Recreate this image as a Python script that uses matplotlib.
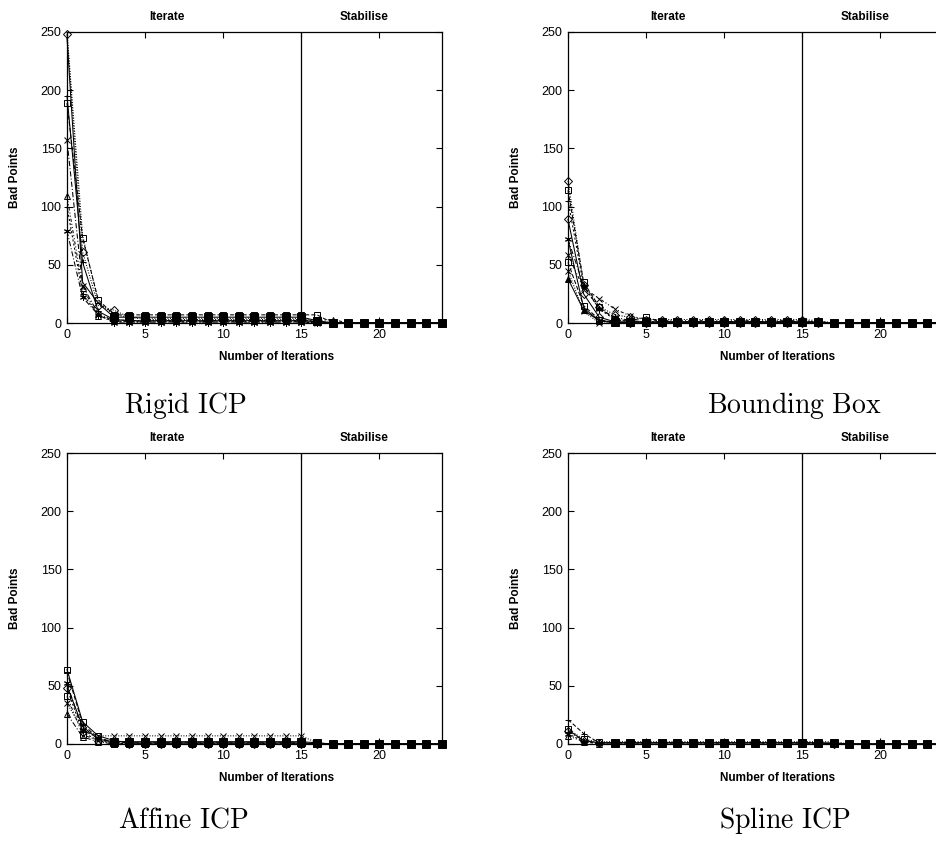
import matplotlib
matplotlib.use("Agg")
import matplotlib.pyplot as plt
import numpy as np

plt.rcParams['mathtext.fontset'] = 'cm'
plt.rcParams['font.family'] = ['Liberation Sans', 'DejaVu Sans']

iterations = list(range(25))
x_ticks = [0, 5, 10, 15, 20]
y_ticks = [0, 50, 100, 150, 200, 250]
phase_labels = ["Iterate", "Stabilise"]
captions = ["Rigid ICP", "Bounding Box", "Affine ICP", "Spline ICP"]

# ---- Rigid ICP ----
rigid_diamond = [248, 61, 15, 11, 5, 3, 3, 3, 3, 3, 3, 3, 3, 3, 3, 3, 2, 0, 0, 0, 0, 0, 0, 0, 0]
rigid_dotted = [250, 75, 18, 7, 5, 4, 4, 4, 4, 4, 4, 4, 4, 4, 4, 4, 1, 0, 0, 0, 0, 0, 0, 0, 0]
rigid_plus = [195, 52, 10, 3, 2, 2, 2, 2, 2, 2, 2, 2, 2, 2, 2, 2, 1, 0, 0, 0, 0, 0, 0, 0, 0]
rigid_square = [189, 73, 20, 7, 7, 7, 7, 7, 7, 7, 7, 7, 7, 7, 7, 7, 7, 0, 0, 0, 0, 0, 0, 0, 0]
rigid_cross = [157, 32, 8, 2, 1, 1, 1, 1, 1, 1, 1, 1, 1, 1, 1, 1, 0, 0, 0, 0, 0, 0, 0, 0, 0]
rigid_triangle = [109, 30, 6, 3, 2, 2, 2, 2, 2, 2, 2, 2, 2, 2, 2, 2, 2, 3, 0, 0, 0, 0, 0, 0, 0]
rigid_plus2 = [100, 25, 7, 1, 1, 1, 1, 1, 1, 1, 1, 1, 1, 1, 1, 1, 0, 0, 0, 0, 0, 0, 0, 0, 0]
rigid_star = [79, 22, 7, 0, 0, 0, 0, 0, 0, 0, 0, 0, 0, 0, 0, 0, 0, 0, 0, 0, 0, 0, 0, 0, 0]
rigid_fsquare = [245, 35, 17, 5, 5, 5, 5, 5, 5, 5, 5, 5, 5, 5, 5, 5, 2, 0, 0, 0, 0, 0, 0, 0, 0]

# ---- Bounding Box ----
box_diamond = [122, 33, 14, 7, 5, 3, 3, 3, 3, 3, 3, 3, 3, 3, 3, 3, 2, 0, 0, 0, 0, 0, 0, 0, 0]
box_square = [114, 35, 14, 3, 2, 5, 1, 1, 1, 1, 1, 1, 1, 1, 1, 1, 1, 0, 0, 0, 0, 0, 0, 0, 0]
box_plus = [105, 32, 12, 3, 1, 1, 1, 1, 1, 1, 1, 1, 1, 1, 1, 1, 0, 0, 0, 0, 0, 0, 0, 0, 0]
box_diamond2 = [89, 25, 5, 1, 0, 0, 0, 0, 0, 0, 0, 0, 0, 0, 0, 0, 0, 0, 0, 0, 0, 0, 0, 0, 0]
box_star = [72, 32, 12, 5, 2, 1, 1, 1, 1, 1, 1, 1, 1, 1, 1, 1, 0, 0, 0, 0, 0, 0, 0, 0, 0]
box_cross = [58, 30, 21, 12, 6, 3, 2, 2, 2, 2, 2, 2, 2, 2, 2, 2, 1, 0, 0, 0, 0, 0, 0, 0, 0]
box_square2 = [52, 15, 3, 0, 0, 0, 0, 0, 0, 0, 0, 0, 0, 0, 0, 0, 0, 0, 0, 0, 0, 0, 0, 0, 0]
box_cross2 = [45, 10, 0, 0, 0, 0, 0, 0, 0, 0, 0, 0, 0, 0, 0, 0, 0, 0, 0, 0, 0, 0, 0, 0, 0]
box_triangle = [38, 11, 2, 0, 0, 0, 0, 0, 0, 0, 0, 0, 0, 0, 0, 0, 0, 0, 0, 0, 0, 0, 0, 0, 0]
box_fsquare = [72, 13, 2, 1, 1, 1, 1, 1, 1, 1, 1, 1, 1, 1, 1, 1, 1, 0, 0, 0, 0, 0, 0, 0, 0]

# ---- Affine ICP ----
affine_square = [64, 19, 7, 3, 1, 1, 1, 1, 1, 1, 1, 1, 1, 1, 1, 1, 0, 0, 0, 0, 0, 0, 0, 0, 0]
affine_plus = [62, 17, 5, 2, 1, 1, 1, 1, 1, 1, 1, 1, 1, 1, 1, 1, 0, 0, 0, 0, 0, 0, 0, 0, 0]
affine_star = [52, 12, 5, 1, 0, 0, 0, 0, 0, 0, 0, 0, 0, 0, 0, 0, 0, 0, 0, 0, 0, 0, 0, 0, 0]
affine_diamond = [48, 10, 3, 1, 0, 0, 0, 0, 0, 0, 0, 0, 0, 0, 0, 0, 0, 0, 0, 0, 0, 0, 0, 0, 0]
affine_square2 = [41, 8, 3, 0, 0, 0, 0, 0, 0, 0, 0, 0, 0, 0, 0, 0, 0, 0, 0, 0, 0, 0, 0, 0, 0]
affine_cross = [35, 12, 7, 7, 7, 7, 7, 7, 7, 7, 7, 7, 7, 7, 7, 7, 1, 0, 0, 0, 0, 0, 0, 0, 0]
affine_triangle = [26, 6, 2, 0, 0, 0, 0, 0, 0, 0, 0, 0, 0, 0, 0, 0, 0, 0, 0, 0, 0, 0, 0, 0, 0]
affine_fsquare = [50, 15, 4, 2, 2, 2, 2, 2, 2, 2, 2, 2, 2, 2, 2, 2, 1, 0, 0, 0, 0, 0, 0, 0, 0]

# ---- Spline ICP ----
spline_plus = [21, 9, 1, 1, 1, 1, 1, 1, 1, 1, 1, 1, 1, 1, 1, 1, 1, 0, 0, 0, 0, 0, 0, 0, 0]
spline_square = [13, 4, 2, 2, 2, 2, 2, 2, 2, 2, 2, 2, 2, 2, 2, 2, 2, 2, 0, 0, 0, 0, 0, 0, 0]
spline_diamond = [11, 3, 1, 1, 1, 1, 1, 1, 1, 1, 1, 1, 1, 1, 1, 1, 1, 0, 0, 0, 0, 0, 0, 0, 0]
spline_star = [9, 2, 1, 1, 1, 1, 1, 1, 1, 1, 1, 1, 1, 1, 1, 1, 0, 0, 0, 0, 0, 0, 0, 0, 0]
spline_triangle = [7, 2, 0, 0, 0, 0, 0, 0, 0, 0, 0, 0, 0, 0, 0, 0, 0, 0, 0, 0, 0, 0, 0, 0, 0]
spline_fsquare = [12, 3, 1, 1, 1, 1, 1, 1, 1, 1, 1, 1, 1, 1, 1, 1, 1, 1, 0, 0, 0, 0, 0, 0, 0]

ASTER = (6, 2, 0)
DASH_DOT = (0, (5, 2, 1, 2))
DASH_DOT2 = (0, (3, 2, 1, 2, 1, 2))
DOTTED = (0, (1, 1.5))
DASHED = (0, (4, 2))
DASHED2 = (0, (2, 2))

panels = [
    [(rigid_dotted, None, DOTTED), (rigid_diamond, 'D', DOTTED), (rigid_plus, '+', '-'),
     (rigid_square, 's', DASHED), (rigid_cross, 'x', DASH_DOT), (rigid_triangle, '^', DASH_DOT2),
     (rigid_plus2, '+', DASHED2), (rigid_star, ASTER, DASH_DOT), (rigid_fsquare, 'S', '-')],
    [(box_diamond, 'D', DOTTED), (box_square, 's', DASHED), (box_plus, '+', DASHED2),
     (box_diamond2, 'D', '-'), (box_star, ASTER, DASH_DOT), (box_cross, 'x', DASH_DOT2),
     (box_square2, 's', DASHED), (box_cross2, 'x', DOTTED), (box_triangle, '^f', '-'),
     (box_fsquare, 'S', '-')],
    [(affine_square, 's', '-'), (affine_plus, '+', DASHED), (affine_star, ASTER, DASH_DOT),
     (affine_diamond, 'D', DASHED2), (affine_square2, 's', DASH_DOT2), (affine_cross, 'x', DOTTED),
     (affine_triangle, '^', DASH_DOT), (affine_fsquare, 'S', '-')],
    [(spline_plus, '+', DASHED), (spline_square, 's', DOTTED), (spline_diamond, 'D', DASH_DOT),
     (spline_star, ASTER, DASHED2), (spline_triangle, '^', DASH_DOT2), (spline_fsquare, 'S', '-')],
]

W, H = 937, 841
fig = plt.figure(figsize=(W / 100, H / 100), dpi=100)

ax_w = 375 / W
ax_h = 291 / H
origins = [(67, 323), (568, 323), (67, 744), (568, 744)]
caption_pos = [(185, 405), (794, 405), (183, 820), (785, 820)]

label_font = dict(family=['Liberation Sans Narrow', 'Liberation Sans'], fontweight='bold', fontsize=8.5)

for i, series in enumerate(panels):
    ox, oy = origins[i]
    ax = fig.add_axes([ox / W, 1 - oy / H, ax_w, ax_h])
    for vals, mk, ls in series:
        kw = dict(color='black', lw=0.75, linestyle=ls, markeredgewidth=0.7, clip_on=False)
        if mk is None:
            ax.plot(iterations, vals, **kw)
        elif mk == 'S':
            ax.plot(iterations, vals, marker='s', markersize=5.5, markerfacecolor='black',
                    markevery=list(range(3, len(iterations))), zorder=3, **kw)
        elif mk == '^f':
            ax.plot(iterations, vals, marker='^', markersize=5, markerfacecolor='black', **kw)
        elif mk == 'D':
            ax.plot(iterations, vals, marker='D', markersize=3.8, markerfacecolor='none', **kw)
        else:
            fc = 'none' if mk in ('s', '^') else 'black'
            ax.plot(iterations, vals, marker=mk, markersize=5, markerfacecolor=fc, **kw)
    ax.axvline(15, color='black', lw=0.9)
    ax.set_xlim(0, 24)
    ax.set_ylim(0, 250)
    ax.set_xticks(x_ticks)
    ax.set_yticks(y_ticks)
    ax.tick_params(direction='in', top=True, right=True, length=4, width=0.8,
                   labelsize=9, pad=4)
    for sp in ax.spines.values():
        sp.set_linewidth(0.9)
    ax.text(6.4, 1.052, phase_labels[0], transform=ax.get_xaxis_transform(),
            ha='center', va='center', **label_font)
    ax.text(19.0, 1.052, phase_labels[1], transform=ax.get_xaxis_transform(),
            ha='center', va='center', **label_font)
    ax.text(0.56, -0.117, "Number of Iterations", transform=ax.transAxes,
            ha='center', va='center', **label_font)
    ax.text(-0.139, 0.5, "Bad Points", transform=ax.transAxes, rotation=90,
            ha='center', va='center', **label_font)
    cx, cy = caption_pos[i]
    fig.text(cx / W, 1 - cy / H, r'$\mathrm{' + captions[i].replace(' ', r'\ ') + '}$',
             ha='center', va='center', fontsize=20)

fig.savefig("out.png", dpi=100)
